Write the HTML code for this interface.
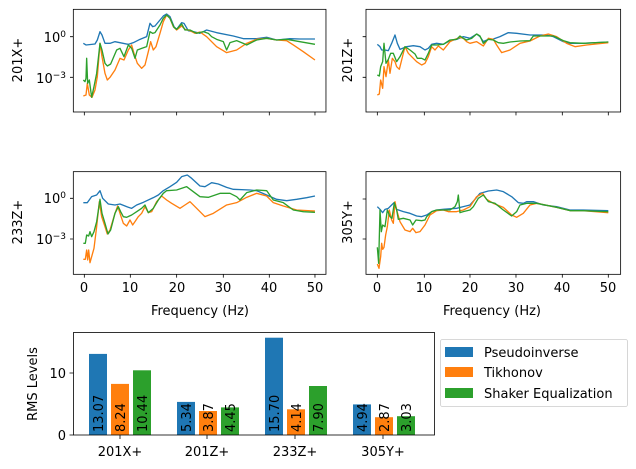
<!DOCTYPE html>
<html><head><meta charset="utf-8"><style>
body{margin:0;background:#fff;}
svg{display:block;font-family:"DejaVu Sans","Liberation Sans",sans-serif;}
.c polyline{fill:none;stroke-width:4;stroke-linejoin:round;}
.b{stroke:#1f77b4}.o{stroke:#ff7f0e}.g{stroke:#2ca02c}
.fr{fill:none;stroke:#000;stroke-width:2.4}
.tk{stroke:#000;stroke-width:2.4}
text{font-size:13px;fill:#000}
</style></head><body>
<svg width="636" height="469" viewBox="0 0 636 469">
<!-- 201X+ -->
<g transform="scale(0.3333)" class="c">
<polyline class="b" points="250,130 258,135 285,132 292,120 300,95 306,105 315,130 330,130 345,125 360,128 385,133 400,128 420,118 440,110 450,70 458,80 465,78 490,48 500,42 510,50 522,80 530,88 545,68 552,70 565,92 580,95 600,100 620,90 650,98 700,108 730,116 770,116 800,112 830,120 870,116 900,117 945,117"/>
<polyline class="o" points="250,288 258,285 262,250 268,285 276,292 285,270 292,230 300,130 306,170 315,220 322,240 330,232 345,210 360,175 372,180 385,150 395,135 402,160 412,190 425,205 435,195 445,155 452,125 460,150 468,140 480,100 490,65 500,45 510,55 520,80 530,90 545,78 555,88 570,92 585,100 600,96 620,110 650,140 680,158 710,150 740,130 770,118 800,115 830,120 860,122 880,135 910,155 945,180"/>
<polyline class="g" points="250,240 255,245 258,235 260,175 263,250 268,240 275,292 282,260 290,220 300,130 306,150 315,190 322,198 332,192 350,150 360,145 372,170 385,135 395,145 405,175 412,150 425,145 440,140 450,95 458,100 465,98 480,75 490,55 500,45 510,55 522,82 530,88 545,72 555,90 570,90 590,100 610,95 625,100 635,110 650,118 670,125 680,150 690,128 710,122 730,130 740,135 770,120 800,115 830,120 860,118 900,125 945,133"/>
<rect class="fr" x="220" y="28" width="758" height="308"/>
<path class="tk" d="M220,110h-10M220,232h-10M253,336v10M391,336v10M530,336v10M670,336v10M808,336v10M945,336v10"/>
</g>
<!-- 201Z+ -->
<g transform="translate(330,0) scale(0.3333)" class="c">
<polyline class="b" points="142,133 150,140 155,150 165,150 175,152 185,130 195,105 202,130 210,148 230,140 250,137 270,140 285,150 295,145 305,133 320,130 340,133 360,122 380,118 400,110 420,115 440,102 450,110 460,125 475,118 490,117 510,110 535,98 560,100 600,105 650,105 670,110 700,125 720,130 760,130 835,126"/>
<polyline class="o" points="142,285 148,282 152,240 158,265 162,200 168,230 175,180 180,220 187,175 195,185 200,200 208,208 215,180 225,140 235,160 245,170 260,185 275,195 285,190 295,170 305,140 315,150 325,138 340,150 360,125 375,118 390,112 400,115 410,125 420,130 440,125 460,138 475,115 490,118 500,135 515,158 540,150 570,130 600,123 630,108 655,102 680,110 710,130 735,140 770,135 835,128"/>
<polyline class="g" points="142,225 148,228 152,200 158,185 162,130 168,190 175,178 182,160 190,160 200,185 210,170 225,140 240,150 255,162 262,175 275,175 285,180 295,160 305,135 320,135 340,133 360,120 380,118 390,108 400,115 410,120 425,115 440,102 450,108 460,130 475,118 490,120 505,128 520,130 540,126 570,123 600,122 610,108 640,108 670,108 700,122 720,128 760,130 835,126"/>
<rect class="fr" x="108" y="28" width="764" height="308"/>
<path class="tk" d="M108,110h-10M108,232h-10M142,336v10M283,336v10M420,336v10M558,336v10M697,336v10M835,336v10"/>
</g>
<!-- 233Z+ -->
<g transform="translate(0,160) scale(0.3333)" class="c">
<polyline class="b" points="250,128 262,128 275,110 290,105 300,92 308,115 325,132 345,135 360,132 380,140 395,145 410,135 430,127 460,113 475,105 490,92 510,80 530,67 545,50 562,45 575,55 600,78 615,80 635,68 655,72 680,82 700,88 750,90 770,92 800,105 830,118 860,122 890,118 920,113 945,108"/>
<polyline class="o" points="250,298 256,298 260,270 263,300 266,270 270,308 275,290 282,265 290,200 298,125 305,170 315,200 322,222 330,210 345,160 353,138 360,160 370,190 380,198 390,180 398,195 405,185 415,170 425,160 435,140 445,158 455,155 470,125 485,108 500,120 515,130 540,145 555,135 570,125 590,145 615,170 640,160 680,135 710,128 740,112 770,100 800,108 820,128 850,138 890,150 945,153"/>
<polyline class="g" points="250,250 256,250 260,225 266,228 270,215 275,230 282,215 290,185 300,118 306,160 315,190 324,222 332,210 345,160 355,140 362,155 370,170 380,172 395,165 410,155 425,145 435,135 445,158 460,145 475,120 490,100 500,92 530,90 560,80 580,95 600,110 625,112 660,100 690,100 710,110 720,120 740,98 770,90 800,92 820,120 850,128 880,150 910,155 945,157"/>
<rect class="fr" x="220" y="35" width="758" height="308"/>
<path class="tk" d="M220,115h-10M220,237h-10M253,343v10M391,343v10M530,343v10M670,343v10M808,343v10M945,343v10"/>
</g>
<!-- 305Y+ -->
<g transform="translate(330,160) scale(0.3333)" class="c">
<polyline class="b" points="142,140 150,148 158,158 165,148 175,145 185,135 192,128 200,148 220,155 240,160 260,168 275,170 290,165 305,155 320,150 340,148 380,145 400,140 420,135 435,118 450,100 475,93 500,90 520,95 545,110 565,128 580,130 590,125 610,125 640,135 680,140 720,150 760,150 835,152"/>
<polyline class="o" points="142,312 147,325 152,290 155,250 158,268 162,262 167,225 172,200 178,150 185,180 190,190 195,125 200,150 210,185 225,210 240,215 248,205 258,218 270,215 285,195 300,165 320,152 340,150 355,155 380,155 400,150 420,140 440,110 458,100 470,118 490,130 520,142 545,165 560,172 580,160 600,135 620,130 680,142 720,152 760,152 835,158"/>
<polyline class="g" points="142,262 146,310 150,150 154,215 158,195 165,200 172,150 180,170 186,175 193,128 200,150 205,178 220,175 240,180 248,195 258,180 275,182 285,180 290,170 305,155 320,150 340,150 360,150 375,140 382,125 385,105 390,158 400,155 420,150 430,140 445,115 460,105 475,125 495,130 520,150 545,168 560,155 570,135 590,130 620,130 680,142 720,152 760,152 835,155"/>
<rect class="fr" x="108" y="35" width="764" height="308"/>
<path class="tk" d="M108,117h-10M108,237h-10M142,343v10M283,343v10M420,343v10M558,343v10M697,343v10M835,343v10"/>
</g>
<!-- labels top -->
<text x="66" y="42" text-anchor="end">10<tspan font-size="9" dy="-5">0</tspan></text>
<text x="66" y="83" text-anchor="end">10<tspan font-size="9" dy="-5">−3</tspan></text>
<text transform="translate(22,60) rotate(-90)" text-anchor="middle">201X+</text>
<text transform="translate(352,60) rotate(-90)" text-anchor="middle">201Z+</text>
<text x="66" y="203" text-anchor="end">10<tspan font-size="9" dy="-5">0</tspan></text>
<text x="66" y="244" text-anchor="end">10<tspan font-size="9" dy="-5">−3</tspan></text>
<text transform="translate(22,222) rotate(-90)" text-anchor="middle">233Z+</text>
<text transform="translate(352,222) rotate(-90)" text-anchor="middle">305Y+</text>
<g text-anchor="middle">
<text x="84" y="292">0</text><text x="130" y="292">10</text><text x="177" y="292">20</text><text x="223" y="292">30</text><text x="269" y="292">40</text><text x="315" y="292">50</text>
<text x="377" y="292">0</text><text x="424" y="292">10</text><text x="470" y="292">20</text><text x="516" y="292">30</text><text x="562" y="292">40</text><text x="608" y="292">50</text>
<text x="200" y="315">Frequency (Hz)</text><text x="492" y="315">Frequency (Hz)</text>
</g>
<!-- bar chart -->
<g>
<rect x="89" y="353.9" width="18" height="81.1" fill="#1f77b4"/>
<rect x="111" y="383.9" width="18" height="51.1" fill="#ff7f0e"/>
<rect x="133" y="370.3" width="18" height="64.7" fill="#2ca02c"/>
<rect x="177" y="401.9" width="18" height="33.1" fill="#1f77b4"/>
<rect x="199" y="411" width="18" height="24" fill="#ff7f0e"/>
<rect x="221" y="407.4" width="18" height="27.6" fill="#2ca02c"/>
<rect x="265" y="337.7" width="18" height="97.3" fill="#1f77b4"/>
<rect x="287" y="409.3" width="18" height="25.7" fill="#ff7f0e"/>
<rect x="309" y="386" width="18" height="49" fill="#2ca02c"/>
<rect x="353" y="404.4" width="18" height="30.6" fill="#1f77b4"/>
<rect x="375" y="417.2" width="18" height="17.8" fill="#ff7f0e"/>
<rect x="397" y="416.2" width="18" height="18.8" fill="#2ca02c"/>
<rect x="73.5" y="332.5" width="361" height="102.5" fill="none" stroke="#000" stroke-width="0.8"/>
<path d="M73.5,435h-4M73.5,373h-4M120,435v4M207,435v4M295,435v4M383,435v4" stroke="#000" stroke-width="0.8"/>
<text x="66" y="440" text-anchor="end">0</text>
<text x="66" y="378" text-anchor="end">10</text>
<text transform="translate(37,384) rotate(-90)" text-anchor="middle">RMS Levels</text>
<g text-anchor="middle"><text x="120" y="456">201X+</text><text x="207" y="456">201Z+</text><text x="295" y="456">233Z+</text><text x="383" y="456">305Y+</text></g>
<g>
<text transform="translate(103,432) rotate(-90)">13.07</text>
<text transform="translate(125,432) rotate(-90)">8.24</text>
<text transform="translate(147,432) rotate(-90)">10.44</text>
<text transform="translate(191,432) rotate(-90)">5.34</text>
<text transform="translate(213,432) rotate(-90)">3.87</text>
<text transform="translate(235,432) rotate(-90)">4.45</text>
<text transform="translate(279,432) rotate(-90)">15.70</text>
<text transform="translate(301,432) rotate(-90)">4.14</text>
<text transform="translate(323,432) rotate(-90)">7.90</text>
<text transform="translate(367,432) rotate(-90)">4.94</text>
<text transform="translate(389,432) rotate(-90)">2.87</text>
<text transform="translate(411,432) rotate(-90)">3.03</text>
</g>
<rect x="440.5" y="339.5" width="187" height="67" rx="2" fill="#fff" stroke="#ccc" stroke-width="0.8"/>
<rect x="445" y="347" width="28" height="10" fill="#1f77b4"/>
<rect x="445" y="367" width="28" height="10" fill="#ff7f0e"/>
<rect x="445" y="388" width="28" height="10" fill="#2ca02c"/>
<text x="484" y="357">Pseudoinverse</text>
<text x="484" y="377">Tikhonov</text>
<text x="484" y="398">Shaker Equalization</text>
</g>
</svg>
</body></html>
